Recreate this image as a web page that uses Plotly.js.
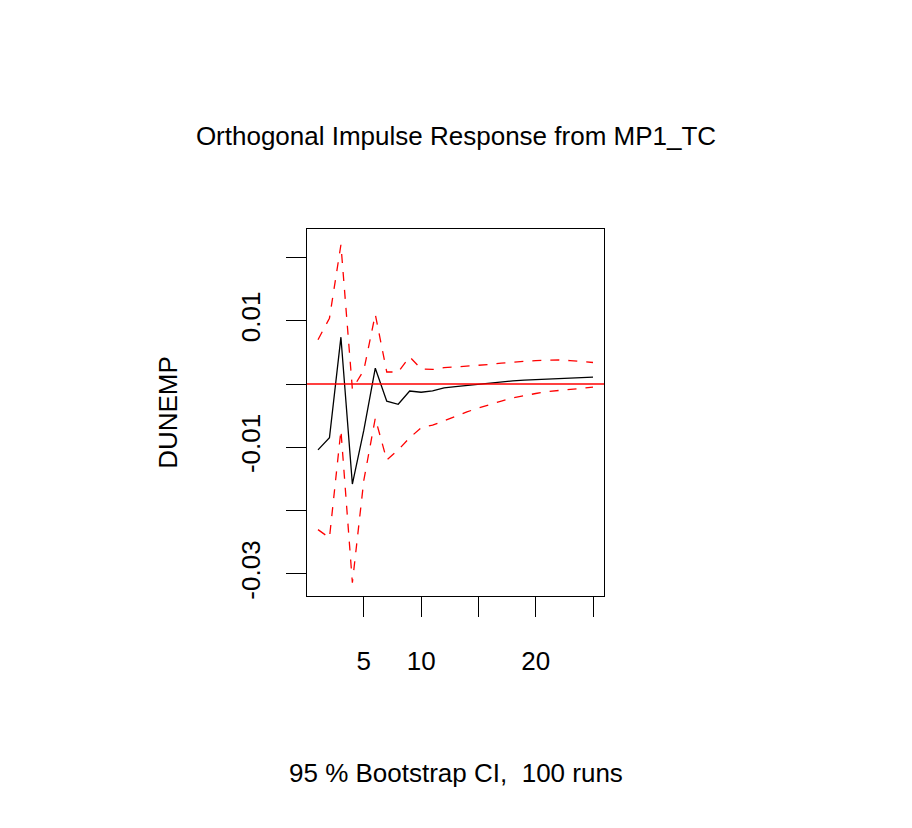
<!DOCTYPE html>
<html><head><script src="https://cdn.plot.ly/plotly-3.0.1.min.js"></script>
<style>body{margin:0}</style></head><body>
<div id="c" style="width:912px;height:828px"></div>
<script>
const steps=[1,2,3,4,5,6,7,8,9,10,11,12,13,14,15,16,17,18,19,20,21,22,23,24,25];
const irf=[-0.0104,-0.0085,0.0074,-0.0158,-0.0073,0.0025,-0.0027,-0.0032,-0.0011,-0.0013,-0.0011,-0.0006,-0.0004,-0.0002,0,0.0002,0.0003,0.0005,0.0006,0.0007,0.0008,0.0009,0.0010,0.0010,0.0011];
const upper=[0.0070,0.0104,0.0220,-0.0008,0.0022,0.0110,0.0019,0.0019,0.0043,0.0024,0.0023,0.0026,0.0027,0.0028,0.0029,0.0031,0.0033,0.0035,0.0036,0.0037,0.0038,0.0038,0.0037,0.0035,0.0034];
const lower=[-0.0230,-0.0243,-0.0073,-0.0314,-0.0152,-0.0054,-0.0120,-0.0104,-0.0085,-0.0069,-0.0065,-0.0058,-0.0050,-0.0044,-0.0038,-0.0032,-0.0027,-0.0022,-0.0018,-0.0015,-0.0012,-0.0010,-0.0009,-0.0007,-0.0005];
const xt=[5,10,15,20,25], xtl=["5","10","","20",""];
const yt=[0.02,0.01,0,-0.01,-0.02,-0.03], ytl=["","0.01","","-0.01","","-0.03"];
const mk=()=>({family:"Liberation Sans, Arial, sans-serif",size:26,color:"#000"});
Plotly.newPlot("c",[
 {x:steps,y:irf,mode:"lines",line:{color:"black",width:1.3}},
 {x:steps,y:upper,mode:"lines",line:{color:"red",width:1.3,dash:"dash"}},
 {x:steps,y:lower,mode:"lines",line:{color:"red",width:1.3,dash:"dash"}}
],{
 width:912,height:828,showlegend:false,paper_bgcolor:"white",plot_bgcolor:"white",
 margin:{l:307,r:308,t:229,b:232},font:mk(),
 title:{text:"Orthogonal Impulse Response from MP1_TC",x:0.5,xanchor:"center",y:1-136/828,yanchor:"middle",font:mk()},
 xaxis:{range:[0.04,25.96],tickvals:xt,ticktext:xtl,ticks:"outside",ticklen:20,tickcolor:"#000",
  showgrid:false,zeroline:false,showline:true,mirror:true,linecolor:"#000",linewidth:1,ticklabelstandoff:22,tickfont:mk()},
 yaxis:{range:[-0.03349,0.02449],tickvals:yt,ticktext:ytl,ticks:"outside",ticklen:20,tickcolor:"#000",tickangle:-90,
  showgrid:false,zeroline:false,showline:true,mirror:true,linecolor:"#000",linewidth:1,ticklabelstandoff:16,tickfont:mk(),
  title:{text:"DUNEMP",font:mk(),standoff:50}},
 shapes:[{type:"line",xref:"paper",x0:0,x1:1,yref:"y",y0:0,y1:0,line:{color:"red",width:1.3}}],
 annotations:[{text:"95 % Bootstrap CI,  100 runs",xref:"paper",yref:"paper",x:0.5,y:1-(773-229)/367,xanchor:"center",yanchor:"middle",showarrow:false,font:mk()}]
},{displayModeBar:false});
</script></body></html>
